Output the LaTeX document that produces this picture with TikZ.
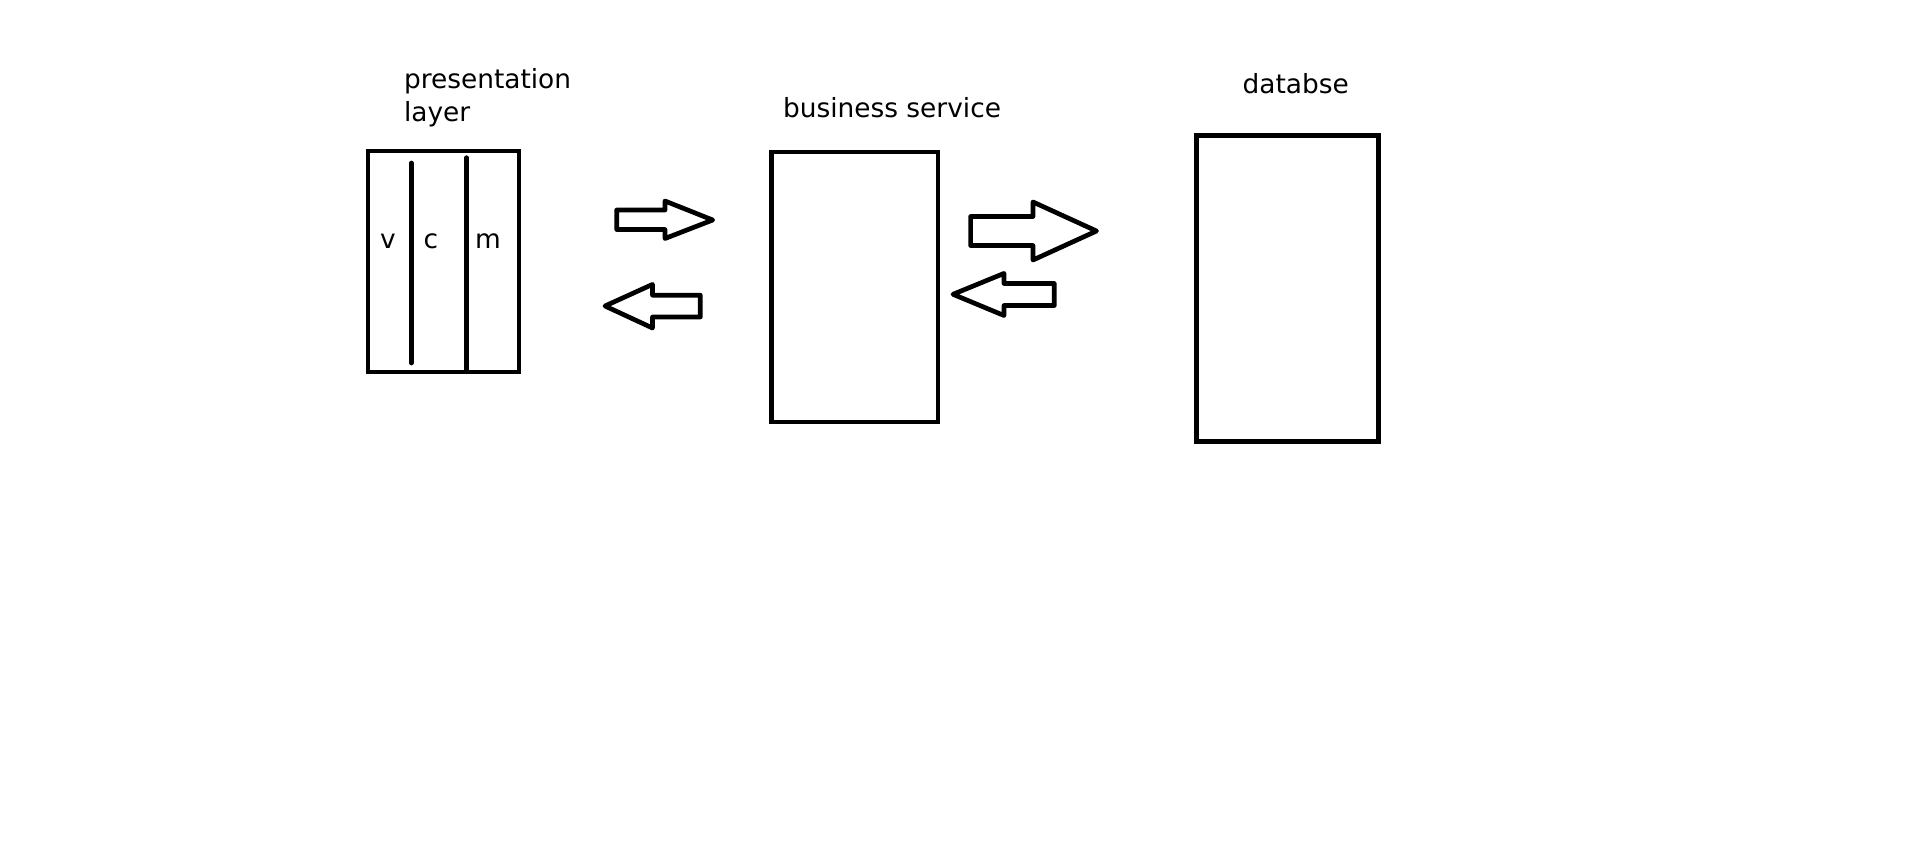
\documentclass[tikz,border=0pt]{standalone}
\usepackage{fontspec}
\setmainfont{DejaVu Sans}
\begin{document}
\begin{tikzpicture}[x=1pt,y=-1pt,
  lw/.style={line width=4.7pt},
  boxnode/.style={draw,lw,inner sep=0pt,outer sep=0pt},
  lbl/.style={inner sep=0pt,outer sep=0pt,font=\fontsize{26.4}{33}\selectfont},
  blockarrow/.style={draw,lw,line join=round,fill=white}]
\useasboundingbox[fill=white] (0,0) rectangle (1914,847);
% boxes
\node[boxnode,minimum width=151pt,minimum height=221pt] (pres) at (443.5,261.5) {};
\node[boxnode,minimum width=166.3pt,minimum height=270pt] (biz) at (854.9,287) {};
\node[boxnode,minimum width=182.4pt,minimum height=305.6pt] (db) at (1287.5,288.5) {};
% titles
\node[lbl,anchor=north west,align=left] (presT) at (404,68.5) {presentation\\layer};
\node[lbl,anchor=base west] (bizT) at (783,117.3) {business service};
\node[lbl,anchor=base west] (dbT) at (1242.6,93.3) {databse};
% mvc dividers
\coordinate (d1t) at (411.3,163);
\coordinate (d1b) at (411.3,363);
\coordinate (d2t) at (466.7,157.7);
\coordinate (d2b) at (466.7,371.7);
\draw[lw,line cap=round] (d1t) -- (d1b);
\draw[lw,line cap=round] (d2t) -- (d2b);
\node[lbl,anchor=base] (v) at (388,248) {v};
\node[lbl,anchor=base] (c) at (431,248) {c};
\node[lbl,anchor=base] (m) at (488,248) {m};
% block arrows
\draw[blockarrow] (616.7,210) -- (665,210) -- (665,201) -- (712.7,220) -- (665,238.5) -- (665,229.5) -- (616.7,229.5) -- cycle;
\draw[blockarrow] (605,306) -- (652.5,284.4) -- (652.5,295.2) -- (700.3,295.2) -- (700.3,317) -- (652.5,317) -- (652.5,328) -- cycle;
\draw[blockarrow] (970.6,216.5) -- (1033,216.5) -- (1033,202) -- (1096.5,231) -- (1033,260) -- (1033,245.5) -- (970.6,245.5) -- cycle;
\draw[blockarrow] (953,294.3) -- (1004,273.4) -- (1004,283.5) -- (1054.3,283.5) -- (1054.3,305.5) -- (1004,305.5) -- (1004,315.5) -- cycle;
\end{tikzpicture}
\end{document}
